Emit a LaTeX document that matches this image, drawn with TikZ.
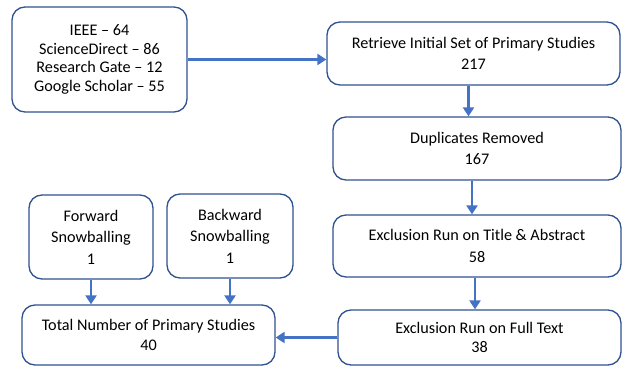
\documentclass[tikz,border=0pt]{standalone}
\usepackage{fontspec}
\setmainfont{Carlito}
\usetikzlibrary{arrows.meta}
\definecolor{boxline}{HTML}{2F528F}
\definecolor{flowblue}{HTML}{4472C4}
\begin{document}
\begin{tikzpicture}[x=1pt, y=1pt,
    box/.style={draw=boxline, line width=1.3pt, rounded corners=13pt, align=center,
                inner sep=0pt, font=\fontsize{16.2}{21.5}\selectfont},
    flow/.style={draw=flowblue, line width=2.6pt, -{Triangle[length=9pt,width=11pt]}}]

    \useasboundingbox (0,0) rectangle (622,367);

    \node[box, minimum width=175, minimum height=105, font=\fontsize{16.2}{18.5}\selectfont] (sources) at (99.5, 307.5)
        {IEEE -- 64\\ScienceDirect -- 86\\Research Gate -- 12\\Google Scholar -- 55};
    \node[box, minimum width=293, minimum height=63] (retrieve) at (473.5, 313.5)
        {Retrieve Initial Set of Primary Studies\\217};
    \node[box, minimum width=288, minimum height=63] (dupes) at (477, 218.5)
        {Duplicates Removed\\167};
    \node[box, minimum width=288, minimum height=62] (title) at (477, 121)
        {Exclusion Run on Title \& Abstract\\58};
    \node[box, minimum width=283, minimum height=55, font=\fontsize{16.2}{19}\selectfont] (fulltext) at (479.5, 29.5)
        {Exclusion Run on Full Text\\38};
    \node[box, minimum width=253, minimum height=60, font=\fontsize{16.2}{20}\selectfont] (total) at (148.5, 32)
        {Total Number of Primary Studies\\40};
    \node[box, minimum width=124, minimum height=84] (forward) at (91, 130)
        {Forward\\Snowballing\\1};
    \node[box, minimum width=126, minimum height=84] (backward) at (230, 131)
        {Backward\\Snowballing\\1};

    \draw[flow] (sources.east) -- (sources.east -| retrieve.west);
    \draw[flow] ([xshift=-5pt]retrieve.south) -- ([xshift=-5pt]retrieve.south |- dupes.north);
    \draw[flow] ([xshift=-5pt]dupes.south) -- ([xshift=-5pt]dupes.south |- title.north);
    \draw[flow] ([xshift=-2pt]title.south) -- ([xshift=-2pt]title.south |- fulltext.north);
    \draw[flow] (fulltext.west) -- (fulltext.west -| total.east);
    \draw[flow] (forward.south) -- (forward.south |- total.north);
    \draw[flow] (backward.south) -- (backward.south |- total.north);

\end{tikzpicture}
\end{document}
